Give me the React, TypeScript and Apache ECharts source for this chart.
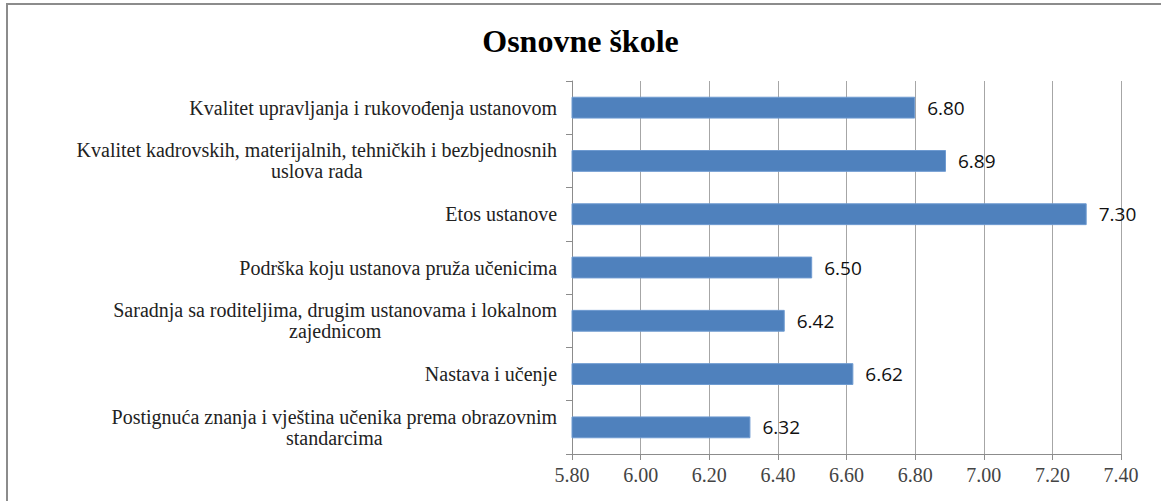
import React, { useEffect, useRef } from "react";
import * as echarts from "echarts";

const title = "Osnovne škole";
const categories = [
  "Kvalitet upravljanja i rukovođenja ustanovom",
  "Kvalitet kadrovskih, materijalnih, tehničkih i bezbjednosnih\nuslova rada",
  "Etos ustanove",
  "Podrška koju ustanova pruža učenicima",
  "Saradnja sa roditeljima, drugim ustanovama i lokalnom\nzajednicom",
  "Nastava i učenje",
  "Postignuća znanja i vještina učenika prema obrazovnim\nstandarcima",
];
const values = [6.8, 6.89, 7.3, 6.5, 6.42, 6.62, 6.32];
const axisMin = 5.8;
const axisMax = 7.4;
const axisStep = 0.2;

export default function App() {
  const ref = useRef<HTMLDivElement>(null);
  useEffect(() => {
    if (!ref.current) return;
    const chart = echarts.init(ref.current, null, { renderer: "svg" });
    chart.setOption({
      animation: false,
      backgroundColor: "#ffffff",
      title: {
        text: title,
        left: "center",
        top: 20,
        textStyle: {
          fontFamily: "Liberation Serif",
          fontWeight: "bold",
          fontSize: 32,
          color: "#000",
        },
      },
      graphic: [
        {
          type: "rect",
          shape: { x: 7, y: 4, width: 1200, height: 600 },
          style: { fill: "none", stroke: "#8c8c8c", lineWidth: 2 },
          silent: true,
        },
      ],
      grid: { left: 572, right: 40, top: 81, bottom: 47 },
      xAxis: {
        type: "value",
        min: axisMin,
        max: axisMax,
        interval: axisStep,
        axisLine: { show: true, lineStyle: { color: "#8c8c8c", width: 1 } },
        axisTick: { show: true, length: 6, lineStyle: { color: "#8c8c8c" } },
        splitLine: { show: true, lineStyle: { color: "#a6a6a6", width: 1 } },
        axisLabel: {
          margin: 11,
          fontFamily: "Liberation Serif",
          fontSize: 20,
          color: "#444",
          formatter: (v: number) => v.toFixed(2),
        },
      },
      yAxis: {
        type: "category",
        inverse: true,
        data: categories,
        axisLine: { show: true, lineStyle: { color: "#8c8c8c", width: 1 } },
        axisTick: { show: true, length: 6, lineStyle: { color: "#8c8c8c" } },
        axisLabel: {
          margin: 15,
          align: "right",
          formatter: (v: string) =>
            v
              .split("\n")
              .map((s) => `{c|${s}}`)
              .join("\n"),
          rich: {
            c: {
              align: "center",
              fontFamily: "Liberation Serif",
              fontSize: 20,
              lineHeight: 21,
              color: "#222",
            },
          },
        },
      },
      series: [
        {
          type: "bar",
          data: values,
          barWidth: "41%",
          itemStyle: { color: "#4f81bd", borderColor: "#6f9bd1", borderWidth: 1 },
          label: {
            show: true,
            position: "right",
            distance: 12,
            fontFamily: "Open Sans",
            fontSize: 19,
            color: "#111",
            formatter: (p: any) => Number(p.value).toFixed(2),
          },
        },
      ],
    });
    return () => chart.dispose();
  }, []);
  return (
    <div
      ref={ref}
      style={{ position: "fixed", left: 0, top: 0, width: 1161, height: 501 }}
    />
  );
}
